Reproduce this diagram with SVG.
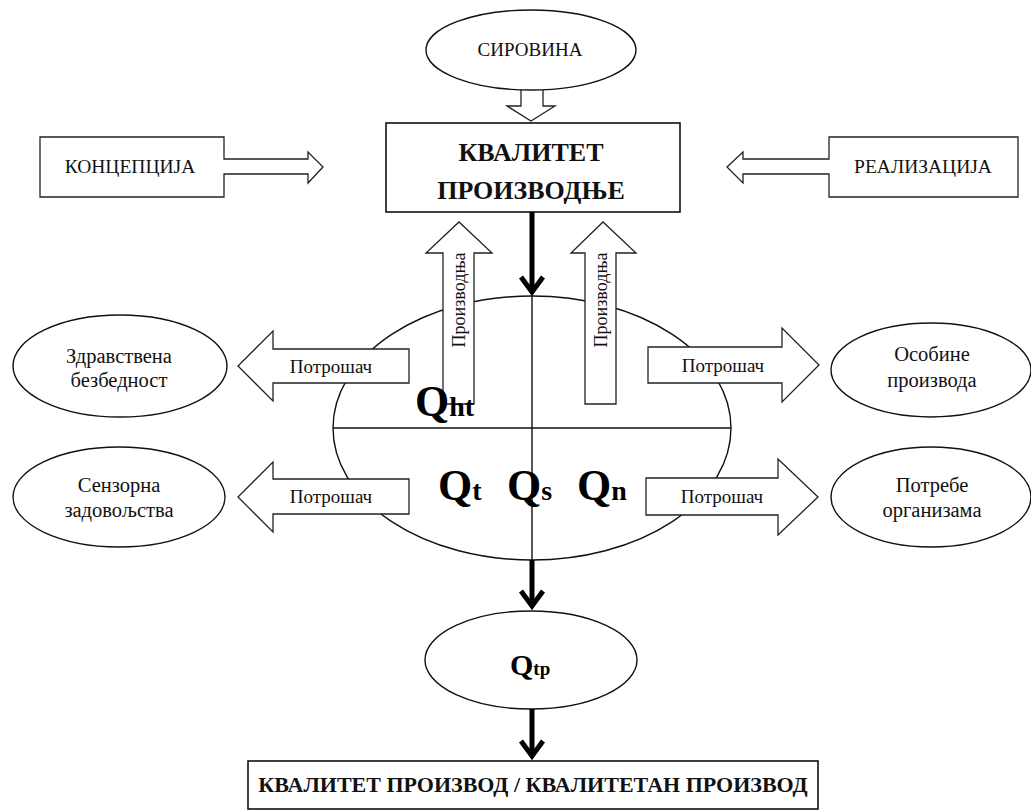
<svg xmlns="http://www.w3.org/2000/svg" width="1031" height="811" viewBox="0 0 1031 811">
  <style>
    .bg { fill: #ffffff; }
    .shape { fill: #ffffff; stroke: #111111; stroke-width: 1.4; }
    .block { fill: #ffffff; stroke: #222222; stroke-width: 1.3; stroke-linejoin: miter; }
    .box { fill: #ffffff; stroke: #111111; stroke-width: 1.6; }
    .div { fill: none; stroke: #111111; stroke-width: 1.4; }
    .flow { fill: none; stroke: #000000; stroke-width: 5; }
    .t { font-family: "Liberation Serif", "Times New Roman", serif; fill: #111111; text-anchor: middle; }
    .lbl { font-size: 19.5px; }
    .arr { font-size: 19px; }
    .oval { font-size: 20.5px; }
    .head { font-size: 26px; font-weight: bold; }
    .q { font-family: "Liberation Serif", "Times New Roman", serif; font-weight: bold; fill: #000000; }
  </style>
  <defs>
    <marker id="tip" markerUnits="userSpaceOnUse" orient="auto" overflow="visible" refX="0" refY="0" markerWidth="1" markerHeight="1">
      <path d="M-14,-11 L1,0 L-14,11" fill="none" stroke="#000000" stroke-width="5" stroke-linejoin="miter" stroke-miterlimit="10"/>
    </marker>
  </defs>

  <rect class="bg" x="0" y="0" width="1031" height="811"/>

  <!-- central quality ellipse with its quadrants -->
  <g id="quality-core">
    <ellipse class="shape" cx="532" cy="428" rx="199" ry="132"/>
    <line class="div" x1="333" y1="428" x2="731" y2="428"/>
    <line class="div" x1="532" y1="296" x2="532" y2="560"/>
    <text class="q" x="438" y="500" font-size="44">Q<tspan font-size="28">t</tspan></text>
    <text class="q" x="507" y="500" font-size="44">Q<tspan font-size="28">s</tspan></text>
    <text class="q" x="577" y="500" font-size="44">Q<tspan font-size="28">n</tspan></text>
  </g>

  <!-- raw material -->
  <g id="sirovina">
    <path class="block" d="M521,86 L521,106 L507,106 L531,121 L555,106 L543,106 L543,86"/>
    <ellipse class="shape" cx="531" cy="50" rx="105" ry="40"/>
    <text class="t" font-size="19px" x="530" y="56">СИРОВИНА</text>
  </g>

  <!-- production quality -->
  <g id="kvalitet-proizvodnje">
    <rect class="box" x="386" y="123" width="294" height="89"/>
    <text class="t head" x="531" y="161">КВАЛИТЕТ</text>
    <text class="t head" x="531" y="199">ПРОИЗВОДЊЕ</text>
  </g>

  <!-- concept box with its arrow -->
  <g id="koncepcija">
    <path class="block" d="M224,159 L224,137 L40,137 L40,197 L224,197 L224,174 L308,174 L308,183 L323,167 L308,152 L308,159 Z"/>
    <text class="t lbl" x="130" y="173">КОНЦЕПЦИЈА</text>
  </g>

  <!-- realisation box with its arrow -->
  <g id="realizacija">
    <path class="block" d="M829,159 L829,137 L1018,137 L1018,197 L829,197 L829,174 L743,174 L743,183 L727,167 L743,152 L743,159 Z"/>
    <text class="t lbl" x="923" y="173">РЕАЛИЗАЦИЈА</text>
  </g>

  <!-- producer arrows pointing up -->
  <g id="proizvodnja-left">
    <path class="block" d="M443,404 L443,253 L426,253 L459,222 L492,253 L474,253 L474,404 Z"/>
    <text class="t" font-size="18" transform="translate(465,300) rotate(-90)">Производња</text>
  </g>
  <g id="proizvodnja-right">
    <path class="block" d="M585,404 L585,253 L571,253 L603,222 L636,253 L616,253 L616,404 Z"/>
    <text class="t" font-size="18" transform="translate(607,300) rotate(-90)">Производња</text>
  </g>

  <!-- hygienic-toxicological quadrant label, above the producer arrow -->
  <g id="qht-label">
    <text class="q" x="415" y="416" font-size="44">Q<tspan font-size="28">ht</tspan></text>
  </g>

  <!-- consumer arrows -->
  <g id="potrosac-ul">
    <path class="block" d="M409,349 L273,349 L273,331 L238,366 L273,401 L273,383 L409,383 Z"/>
    <text class="t arr" x="331" y="373">Потрошач</text>
  </g>
  <g id="potrosac-ur">
    <path class="block" d="M648,347 L782,347 L782,328 L819,365 L782,402 L782,383 L648,383 Z"/>
    <text class="t arr" x="723" y="372">Потрошач</text>
  </g>
  <g id="potrosac-ll">
    <path class="block" d="M409,479 L273,479 L273,462 L238,497 L273,532 L273,514 L409,514 Z"/>
    <text class="t arr" x="331" y="503">Потрошач</text>
  </g>
  <g id="potrosac-lr">
    <path class="block" d="M646,478 L778,478 L778,459 L818,497 L778,535 L778,515 L646,515 Z"/>
    <text class="t arr" x="722" y="503">Потрошач</text>
  </g>

  <!-- outcome ellipses -->
  <g id="zdravstvena">
    <ellipse class="shape" cx="120" cy="366" rx="107" ry="51"/>
    <text class="t oval" x="119" y="363">Здравствена</text>
    <text class="t oval" x="119" y="387">безбедност</text>
  </g>
  <g id="senzorna">
    <ellipse class="shape" cx="119" cy="497" rx="106" ry="50"/>
    <text class="t oval" x="119" y="492">Сензорна</text>
    <text class="t oval" x="119" y="517">задовољства</text>
  </g>
  <g id="osobine">
    <ellipse class="shape" cx="931" cy="370" rx="100" ry="47"/>
    <text class="t oval" x="932" y="361">Особине</text>
    <text class="t oval" x="932" y="387">производа</text>
  </g>
  <g id="potrebe">
    <ellipse class="shape" cx="931" cy="497" rx="100" ry="50"/>
    <text class="t oval" x="932" y="492">Потребе</text>
    <text class="t oval" x="932" y="517">организама</text>
  </g>

  <!-- total product quality -->
  <g id="qtp">
    <ellipse class="shape" cx="531" cy="660" rx="106" ry="49"/>
    <text class="q" x="510" y="675" font-size="30">Q<tspan font-size="19">tp</tspan></text>
  </g>

  <!-- final product -->
  <g id="kvalitetan-proizvod">
    <rect class="box" x="248" y="761" width="570" height="48"/>
    <text class="t" x="533" y="792" font-size="22" font-weight="bold">КВАЛИТЕТ ПРОИЗВОД / КВАЛИТЕТАН ПРОИЗВОД</text>
  </g>

  <!-- main flow connectors -->
  <g id="connectors">
    <line class="flow" x1="532" y1="212" x2="532" y2="291" marker-end="url(#tip)"/>
    <line class="flow" x1="532" y1="560" x2="532" y2="605" marker-end="url(#tip)"/>
    <line class="flow" x1="532" y1="709" x2="532" y2="755" marker-end="url(#tip)"/>
  </g>
</svg>
